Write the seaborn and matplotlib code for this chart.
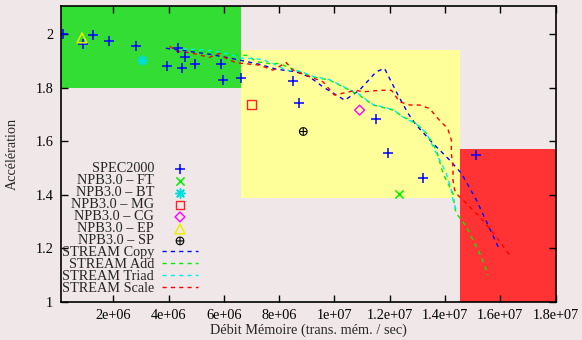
import matplotlib
matplotlib.use("Agg")
import numpy as np
import pandas as pd
import seaborn as sns
import matplotlib.pyplot as plt
from matplotlib.patches import Rectangle
from matplotlib.ticker import FuncFormatter

# ---------------- data ----------------
spec_x = [0.18e6, 0.88e6, 1.26e6, 1.85e6, 2.8e6, 3.95e6, 4.33e6, 4.48e6, 4.6e6, 4.96e6,
          5.88e6, 5.97e6, 6.6e6, 8.49e6, 8.72e6, 11.52e6, 11.93e6, 13.2e6, 15.11e6]
spec_y = [2.0, 1.963, 1.995, 1.973, 1.956, 1.879, 1.948, 1.872, 1.915, 1.89,
          1.89, 1.828, 1.837, 1.825, 1.741, 1.682, 1.555, 1.464, 1.548]

ft_x, ft_y = [12.32e6], [1.404]
bt_x, bt_y = [3.04e6], [1.903]
mg_x, mg_y = [6.99e6], [1.737]
cg_x, cg_y = [10.91e6], [1.716]
ep_x, ep_y = [0.86e6], [1.986]
sp_x, sp_y = [8.87e6], [1.636]

copy_x = [3.9e6, 4.57e6, 5.47e6, 6.08e6, 6.56e6, 7.29e6, 7.89e6, 8.62e6, 9.1e6, 9.58e6,
          10.37e6, 10.9e6, 11.51e6, 11.81e6, 12.3e6, 12.66e6, 12.96e6, 13.57e6, 14.17e6,
          14.6e6, 15.14e6, 15.56e6, 15.98e6]
copy_y = [1.947, 1.938, 1.925, 1.913, 1.903, 1.887, 1.869, 1.859, 1.84, 1.803,
          1.753, 1.79, 1.859, 1.872, 1.772, 1.704, 1.66, 1.591, 1.529,
          1.479, 1.379, 1.286, 1.193]

add_x = [4.9e6, 5.5e6, 6.2e6, 6.86e6, 7.17e6, 7.65e6, 8.0e6, 8.74e6, 9.22e6, 9.82e6,
         10.3e6, 10.55e6, 10.9e6, 11.15e6, 11.39e6, 11.75e6, 12.12e6, 12.48e6, 12.96e6,
         13.33e6, 13.69e6, 13.93e6, 14.05e6, 14.29e6, 14.35e6, 14.41e6, 14.78e6, 15.01e6,
         15.32e6, 15.56e6]
add_y = [1.94, 1.935, 1.922, 1.92, 1.897, 1.89, 1.89, 1.859, 1.84, 1.828,
         1.803, 1.79, 1.772, 1.753, 1.735, 1.726, 1.716, 1.691, 1.666,
         1.629, 1.566, 1.479, 1.454, 1.404, 1.354, 1.33, 1.28, 1.23,
         1.167, 1.099]

triad_x = [4.5e6, 4.93e6, 5.54e6, 6.2e6, 6.68e6, 7.04e6, 7.4e6, 7.77e6, 8.25e6, 8.74e6,
           9.22e6, 9.82e6, 10.3e6, 10.55e6, 10.9e6, 11.15e6, 11.39e6, 11.75e6, 12.12e6,
           12.48e6, 12.96e6, 13.33e6, 13.57e6, 14.05e6, 14.23e6, 14.29e6, 14.41e6]
triad_y = [1.945, 1.943, 1.938, 1.925, 1.909, 1.909, 1.905, 1.89, 1.865, 1.862,
           1.842, 1.83, 1.805, 1.792, 1.775, 1.755, 1.737, 1.728, 1.718,
           1.69, 1.664, 1.63, 1.579, 1.479, 1.417, 1.379, 1.342]

scale_x = [4.03e6, 4.3e6, 4.81e6, 5.47e6, 5.84e6, 6.08e6, 6.44e6, 7.29e6, 7.77e6, 8.25e6,
           8.49e6, 9.0e6, 9.58e6, 10.0e6, 10.25e6, 10.79e6, 11.03e6, 11.63e6, 11.81e6,
           12.06e6, 12.36e6, 12.72e6, 13.08e6, 13.44e6, 13.8e6, 14.1e6, 14.23e6, 14.23e6,
           14.29e6, 14.29e6, 14.35e6, 14.47e6, 14.78e6, 15.26e6, 15.86e6, 16.34e6]
scale_y = [1.955, 1.935, 1.93, 1.913, 1.928, 1.909, 1.893, 1.884, 1.865, 1.894,
           1.865, 1.845, 1.822, 1.772, 1.778, 1.79, 1.784, 1.79, 1.79,
           1.79, 1.747, 1.735, 1.735, 1.722, 1.678, 1.647, 1.604, 1.554,
           1.504, 1.454, 1.417, 1.398, 1.367, 1.317, 1.242, 1.174]

zone_x0 = [0.0, 6.6e6, 14.55e6]
zone_x1 = [6.6e6, 14.55e6, 1.8e7]
zone_y0 = [1.8, 1.387, 1.0]
zone_y1 = [2.105, 1.94, 1.57]
zone_colors = ["#33DD33", "#FFFF99", "#FF3333"]

x_ticks = [2e6, 4e6, 6e6, 8e6, 1e7, 1.2e7, 1.4e7, 1.6e7, 1.8e7]
y_ticks = [1.0, 1.2, 1.4, 1.6, 1.8, 2.0]

# ---------------- style ----------------
sns.set_style("ticks")
bg = "#F0E8E8"
plt.rcParams["font.family"] = ["Liberation Serif", "DejaVu Serif"]
plt.rcParams["mathtext.fontset"] = "dejavuserif"
FS = 10.3

fig = plt.figure(figsize=(5.82, 3.40), dpi=100, facecolor=bg)
ax = fig.add_axes([61 / 582, 1 - 301.7 / 340, 494.5 / 582, 295.7 / 340])
ax.set_facecolor(bg)

for x0, x1, y0, y1, c in zip(zone_x0, zone_x1, zone_y0, zone_y1, zone_colors):
    ax.add_patch(Rectangle((x0, y0), x1 - x0, y1 - y0, facecolor=c,
                           edgecolor="none", zorder=0.5))

# points
sns.scatterplot(x=spec_x, y=spec_y, marker="+", color="#0000FF", s=50,
                linewidth=1.1, label="SPEC2000", ax=ax, zorder=3)
sns.scatterplot(x=ft_x, y=ft_y, marker="x", color="#00EE00", s=35,
                linewidth=1.1, label="NPB3.0 – FT", ax=ax, zorder=3)
sns.scatterplot(x=bt_x, y=bt_y, marker=(8, 2, 0), color="#00DDDD", s=45,
                linewidth=1.1, label="NPB3.0 – BT", ax=ax, zorder=3)
sns.scatterplot(x=mg_x, y=mg_y, marker="s", color="#FF2222", facecolor="none",
                edgecolor="#FF2222", s=40, linewidth=1.0, label="NPB3.0 – MG",
                ax=ax, zorder=3)
sns.scatterplot(x=cg_x, y=cg_y, marker="D", color="#FF00FF", facecolor="none",
                edgecolor="#FF00FF", s=25, linewidth=1.0, label="NPB3.0 – CG",
                ax=ax, zorder=3)
sns.scatterplot(x=ep_x, y=ep_y, marker="^", color="#FFFF00", facecolor="none",
                edgecolor="#EEEE00", s=50, linewidth=1.1, label="NPB3.0 – EP",
                ax=ax, zorder=3)
sns.scatterplot(x=sp_x, y=sp_y, marker=r"$\oplus$", color="black",
                edgecolor="none", s=40, linewidth=0, label="NPB3.0 – SP",
                ax=ax, zorder=3)

# lines
line_specs = [
    (copy_x, copy_y, "#0000FF", "STREAM Copy"),
    (add_x, add_y, "#00EE00", "STREAM Add"),
    (triad_x, triad_y, "#00EEEE", "STREAM Triad"),
    (scale_x, scale_y, "#FF0000", "STREAM Scale"),
]
for xs, ys, c, lab in line_specs:
    sns.lineplot(x=xs, y=ys, sort=False, estimator=None, color=c, linewidth=1.0,
                 label=lab, ax=ax, zorder=2)
    ax.lines[-1].set_dashes([3, 3])

ax.set_xlim(0.1e6, 1.8e7)
ax.set_ylim(1.0, 2.105)
ax.set_xticks(x_ticks)
ax.set_yticks(y_ticks)
ax.xaxis.set_major_formatter(FuncFormatter(lambda v, p: f"{v:g}"))
ax.yaxis.set_major_formatter(FuncFormatter(lambda v, p: f"{v:g}"))
ax.tick_params(direction="in", length=5, width=1.0, top=True, right=True,
               labelsize=FS, pad=5.5, colors="black")
for s in ax.spines.values():
    s.set_visible(True)
    s.set_linewidth(1.2)
    s.set_color("black")
    s.set_zorder(5)

ax.set_xlabel("Débit Mémoire (trans. mém. / sec)", fontsize=FS, labelpad=1)
ax.set_ylabel("Accélération", fontsize=FS, labelpad=12)

handles, labels = ax.get_legend_handles_labels()
leg = ax.legend(handles, labels, loc="upper right",
                bbox_to_anchor=((198.3 - 61) / 494.5, 1 - (162 - 6) / 295.7),
                frameon=False, markerfirst=False, fontsize=FS, borderpad=0,
                borderaxespad=0, handlelength=2.56, handletextpad=0.54,
                handleheight=0.5, labelspacing=-0.07)

fig.savefig("out.png", dpi=100, facecolor=bg)
